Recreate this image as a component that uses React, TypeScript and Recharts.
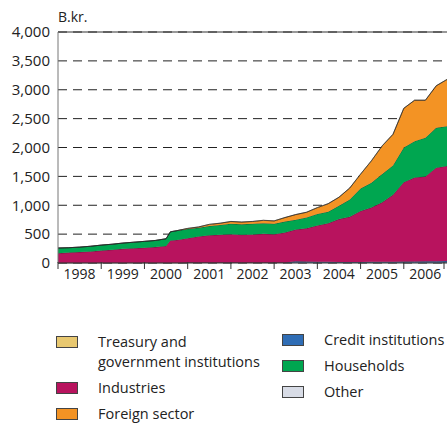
import { AreaChart, Area, XAxis, YAxis, CartesianGrid, ReferenceLine } from 'recharts';

const quarters = [1998, 1998.25, 1998.5, 1998.75, 1999, 1999.25, 1999.5, 1999.75, 2000, 2000.25, 2000.5, 2000.6, 2000.75, 2001, 2001.25, 2001.5, 2001.75, 2002, 2002.25, 2002.5, 2002.75, 2003, 2003.25, 2003.5, 2003.75, 2004, 2004.25, 2004.5, 2004.75, 2005, 2005.25, 2005.5, 2005.75, 2006, 2006.25, 2006.5, 2006.75, 2007, 2007.1];
const other = [5, 5, 5, 5, 5, 5, 5, 5, 5, 5, 5, 5, 5, 8, 8, 8, 8, 8, 8, 8, 8, 8, 8, 10, 10, 10, 10, 10, 10, 10, 10, 10, 10, 10, 10, 10, 10, 10, 10];
const credit = [0, 0, 0, 0, 0, 0, 0, 0, 0, 0, 0, 0, 0, 0, 0, 0, 0, 0, 0, 0, 0, 0, 0, 20, 15, 12, 10, 8, 8, 8, 10, 12, 12, 15, 18, 20, 22, 25, 25];
const industries = [165, 175, 185, 195, 210, 225, 240, 250, 260, 270, 290, 385, 395, 422, 452, 472, 482, 492, 482, 487, 497, 492, 520, 550, 575, 628, 668, 742, 782, 882, 940, 1028, 1158, 1375, 1452, 1470, 1618, 1645, 1655];
const households = [90, 85, 85, 90, 95, 95, 100, 105, 110, 115, 125, 150, 160, 160, 150, 160, 170, 180, 180, 185, 185, 180, 190, 170, 190, 200, 200, 230, 300, 390, 430, 490, 510, 600, 630, 670, 690, 690, 690];
const foreign = [0, 0, 0, 0, 0, 0, 0, 0, 0, 0, 0, 0, 0, 8, 13, 28, 28, 38, 38, 38, 48, 48, 68, 88, 88, 108, 138, 148, 198, 248, 378, 488, 538, 678, 708, 648, 728, 808, 800];
const treasury = [0, 0, 0, 0, 0, 0, 0, 0, 0, 0, 0, 0, 0, 2, 2, 2, 2, 2, 2, 2, 2, 2, 2, 2, 2, 2, 2, 2, 2, 2, 2, 2, 2, 2, 2, 2, 2, 2, 2];
const yearTicks = [1998, 1999, 2000, 2001, 2002, 2003, 2004, 2005, 2006, 2007];
const yTicks = [0, 500, 1000, 1500, 2000, 2500, 3000, 3500, 4000];

const data = quarters.map((q, i) => ({
  q, other: other[i], credit: credit[i], industries: industries[i],
  households: households[i], foreign: foreign[i], treasury: treasury[i],
}));

const series = [
  { key: 'other', color: '#d8dce6' },
  { key: 'credit', color: '#2f6db5' },
  { key: 'industries', color: '#b8135e' },
  { key: 'households', color: '#00a650' },
  { key: 'foreign', color: '#f39324' },
  { key: 'treasury', color: '#e8c870' },
];

const legendLeft = [
  { label: 'Treasury and\ngovernment institutions', color: '#e8c870' },
  { label: 'Industries', color: '#b8135e' },
  { label: 'Foreign sector', color: '#f39324' },
];
const legendRight = [
  { label: 'Credit institutions', color: '#2f6db5' },
  { label: 'Households', color: '#00a650' },
  { label: 'Other', color: '#d8dce6' },
];

const font = '"Open Sans", sans-serif';

function YearTick(props: any) {
  const { x, y, payload } = props;
  return (
    <g>
      <line x1={x} y1={y - 3} x2={x} y2={y + 4} stroke="#333" />
      {payload.value < 2007 && (
        <text x={x + 21.5} y={y + 14} textAnchor="middle" fontSize={14} fill="#222" fontFamily={font}>
          {payload.value}
        </text>
      )}
    </g>
  );
}

function LegendItem({ label, color }: { label: string; color: string }) {
  return (
    <div style={{ display: 'flex', alignItems: 'flex-start', marginBottom: 6 }}>
      <div style={{ width: 20, height: 10, background: color, border: '1px solid #444', marginTop: 4, marginRight: 20, flexShrink: 0 }} />
      <div style={{ whiteSpace: 'pre-line', lineHeight: '20px' }}>{label}</div>
    </div>
  );
}

export default function App() {
  return (
    <div style={{ position: 'absolute', left: 0, top: 0, width: 447, height: 423, background: '#fff', fontFamily: font, color: '#222', overflow: 'hidden' }}>
      <div style={{ position: 'absolute', left: 58, top: 7, fontSize: 14 }}>B.kr.</div>
      <AreaChart width={460} height={292} data={data} margin={{ top: 32, right: 0, left: 0, bottom: 0 }}>
        <CartesianGrid horizontal vertical={false} stroke="#222" strokeDasharray="9 6" />
        <XAxis dataKey="q" type="number" domain={[1998, 2007.3]} ticks={yearTicks} axisLine={{ stroke: '#333' }} tickLine={false} tickSize={0} tick={<YearTick />} height={29} allowDataOverflow />
        <YAxis domain={[0, 4000]} ticks={yTicks} width={58} tickLine={false} axisLine={{ stroke: '#777' }} tickFormatter={(v: number) => v.toLocaleString('en-US')} tick={{ fontSize: 15, fill: '#222', fontFamily: font }} />
        {series.map((s) => (
          <Area key={s.key} dataKey={s.key} stackId="a" type="linear" fill={s.color} fillOpacity={1} stroke="#222" strokeWidth={0.6} isAnimationActive={false} />
        ))}
        <ReferenceLine y={4000} stroke="#333" />
      </AreaChart>
      <div style={{ position: 'absolute', left: 56, top: 332, fontSize: 14.5 }}>
        {legendLeft.map((l) => <LegendItem key={l.label} {...l} />)}
      </div>
      <div style={{ position: 'absolute', left: 282, top: 330, fontSize: 14.5 }}>
        {legendRight.map((l) => <LegendItem key={l.label} {...l} />)}
      </div>
    </div>
  );
}
